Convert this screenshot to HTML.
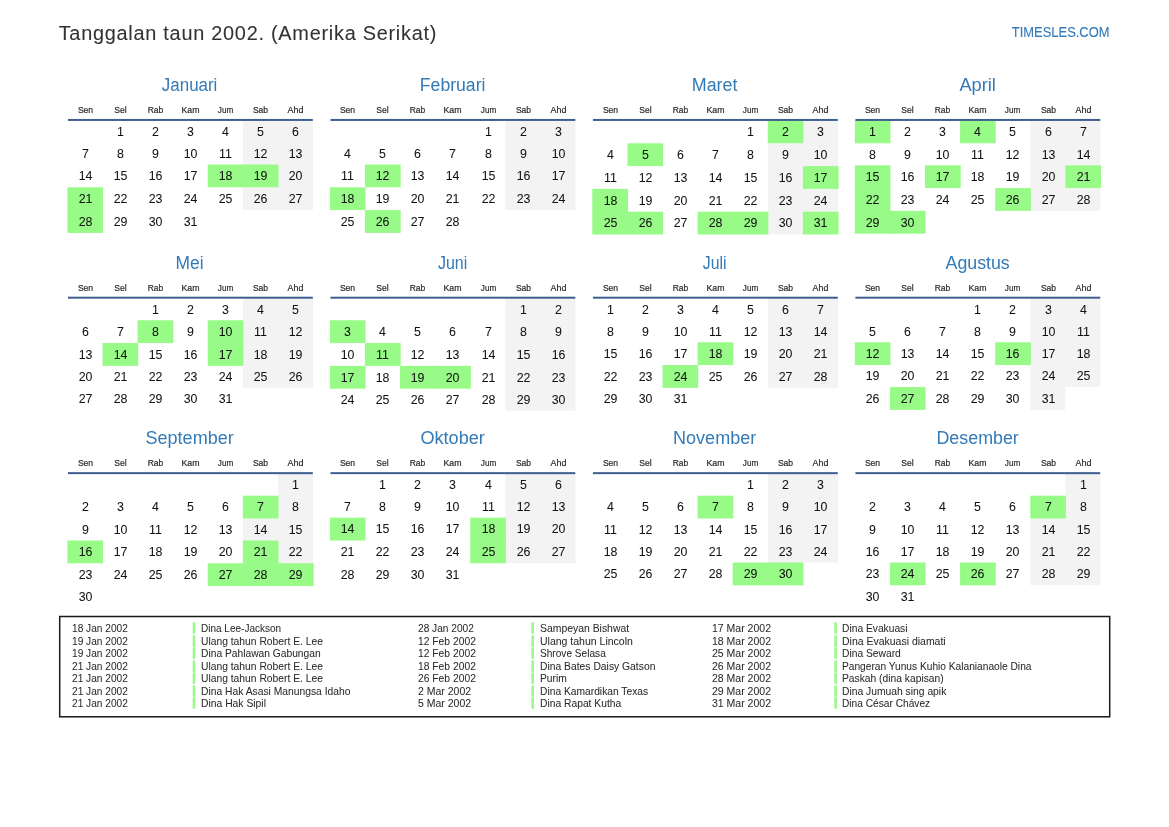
<!DOCTYPE html><html><head><meta charset="utf-8"><title>Tanggalan taun 2002</title><style>
html,body{margin:0;padding:0;background:#fff}
body{width:1169px;height:827px;position:relative;overflow:hidden;font-family:"Liberation Sans",sans-serif;color:#000}
div,svg{position:absolute;white-space:pre;line-height:1}
.w{-webkit-text-stroke:0.2px currentColor}
.s{-webkit-text-stroke:0.12px currentColor}
.t{-webkit-text-stroke:0.08px currentColor}
.h{-webkit-text-stroke:0.05px currentColor}
.d{-webkit-text-stroke:0.05px currentColor}
svg{left:0;top:0}
.t{font-size:19.9px;color:#333;transform-origin:0 50%}
.s{font-size:14.5px;color:#337ab7;transform-origin:100% 50%}
.m{font-size:17.6px;color:#337ab7;text-align:center;width:245.28px}
.w{font-size:8.8px;color:#2a2a2a;text-align:center;width:35.04px}
.d{font-size:13.5px;color:#111;text-align:center;width:35.04px;transform:scaleX(0.9146)}
.h{font-size:10.8px;color:#2a2a2a;transform-origin:0 50%}

</style></head><body>
<svg width="1169" height="827" viewBox="0 0 1169 827"><g fill="#f3f3f3"><rect x="242.85" y="120.50" width="35.59" height="22.50"/><rect x="277.94" y="120.50" width="35.09" height="22.50"/><rect x="242.85" y="142.50" width="35.59" height="22.50"/><rect x="277.94" y="142.50" width="35.09" height="22.50"/><rect x="277.94" y="164.50" width="35.09" height="23.30"/><rect x="242.85" y="187.30" width="35.59" height="22.80"/><rect x="277.94" y="187.30" width="35.09" height="22.80"/><rect x="505.32" y="120.50" width="35.59" height="22.50"/><rect x="540.41" y="120.50" width="35.09" height="22.50"/><rect x="505.32" y="142.50" width="35.59" height="22.50"/><rect x="540.41" y="142.50" width="35.09" height="22.50"/><rect x="505.32" y="164.50" width="35.59" height="23.30"/><rect x="540.41" y="164.50" width="35.09" height="23.30"/><rect x="505.32" y="187.30" width="35.59" height="22.80"/><rect x="540.41" y="187.30" width="35.09" height="22.80"/><rect x="802.88" y="120.50" width="35.09" height="23.30"/><rect x="767.79" y="143.30" width="35.59" height="23.30"/><rect x="802.88" y="143.30" width="35.09" height="23.30"/><rect x="767.79" y="166.10" width="35.59" height="23.30"/><rect x="767.79" y="188.90" width="35.59" height="23.30"/><rect x="802.88" y="188.90" width="35.09" height="23.30"/><rect x="767.79" y="211.70" width="35.59" height="22.80"/><rect x="1030.26" y="120.50" width="35.59" height="23.30"/><rect x="1065.35" y="120.50" width="35.09" height="23.30"/><rect x="1030.26" y="143.30" width="35.59" height="22.50"/><rect x="1065.35" y="143.30" width="35.09" height="22.50"/><rect x="1030.26" y="165.30" width="35.59" height="23.30"/><rect x="1030.26" y="188.10" width="35.59" height="22.80"/><rect x="1065.35" y="188.10" width="35.09" height="22.80"/><rect x="242.85" y="298.25" width="35.59" height="22.50"/><rect x="277.94" y="298.25" width="35.09" height="22.50"/><rect x="242.85" y="320.25" width="35.59" height="23.30"/><rect x="277.94" y="320.25" width="35.09" height="23.30"/><rect x="242.85" y="343.05" width="35.59" height="23.30"/><rect x="277.94" y="343.05" width="35.09" height="23.30"/><rect x="242.85" y="365.85" width="35.59" height="22.00"/><rect x="277.94" y="365.85" width="35.09" height="22.00"/><rect x="505.32" y="298.25" width="35.59" height="22.50"/><rect x="540.41" y="298.25" width="35.09" height="22.50"/><rect x="505.32" y="320.25" width="35.59" height="23.30"/><rect x="540.41" y="320.25" width="35.09" height="23.30"/><rect x="505.32" y="343.05" width="35.59" height="23.30"/><rect x="540.41" y="343.05" width="35.09" height="23.30"/><rect x="505.32" y="365.85" width="35.59" height="23.30"/><rect x="540.41" y="365.85" width="35.09" height="23.30"/><rect x="505.32" y="388.65" width="35.59" height="22.00"/><rect x="540.41" y="388.65" width="35.09" height="22.00"/><rect x="767.79" y="298.25" width="35.59" height="22.50"/><rect x="802.88" y="298.25" width="35.09" height="22.50"/><rect x="767.79" y="320.25" width="35.59" height="22.50"/><rect x="802.88" y="320.25" width="35.09" height="22.50"/><rect x="767.79" y="342.25" width="35.59" height="23.30"/><rect x="802.88" y="342.25" width="35.09" height="23.30"/><rect x="767.79" y="365.05" width="35.59" height="22.80"/><rect x="802.88" y="365.05" width="35.09" height="22.80"/><rect x="1030.26" y="298.25" width="35.59" height="22.50"/><rect x="1065.35" y="298.25" width="35.09" height="22.50"/><rect x="1030.26" y="320.25" width="35.59" height="22.50"/><rect x="1065.35" y="320.25" width="35.09" height="22.50"/><rect x="1030.26" y="342.25" width="35.59" height="23.30"/><rect x="1065.35" y="342.25" width="35.09" height="23.30"/><rect x="1030.26" y="365.05" width="35.59" height="22.50"/><rect x="1065.35" y="365.05" width="35.09" height="22.00"/><rect x="1030.26" y="387.05" width="35.09" height="22.80"/><rect x="277.94" y="473.70" width="35.09" height="22.50"/><rect x="277.94" y="495.70" width="35.09" height="23.30"/><rect x="242.85" y="518.50" width="35.59" height="22.50"/><rect x="277.94" y="518.50" width="35.09" height="22.50"/><rect x="277.94" y="540.50" width="35.09" height="23.30"/><rect x="505.32" y="473.70" width="35.59" height="22.50"/><rect x="540.41" y="473.70" width="35.09" height="22.50"/><rect x="505.32" y="495.70" width="35.59" height="22.50"/><rect x="540.41" y="495.70" width="35.09" height="22.50"/><rect x="505.32" y="517.70" width="35.59" height="23.30"/><rect x="540.41" y="517.70" width="35.09" height="23.30"/><rect x="505.32" y="540.50" width="35.59" height="22.80"/><rect x="540.41" y="540.50" width="35.09" height="22.80"/><rect x="767.79" y="473.70" width="35.59" height="22.50"/><rect x="802.88" y="473.70" width="35.09" height="22.50"/><rect x="767.79" y="495.70" width="35.59" height="23.30"/><rect x="802.88" y="495.70" width="35.09" height="23.30"/><rect x="767.79" y="518.50" width="35.59" height="22.50"/><rect x="802.88" y="518.50" width="35.09" height="22.50"/><rect x="767.79" y="540.50" width="35.59" height="22.50"/><rect x="802.88" y="540.50" width="35.09" height="22.00"/><rect x="1065.35" y="473.70" width="35.09" height="22.50"/><rect x="1065.35" y="495.70" width="35.09" height="23.30"/><rect x="1030.26" y="518.50" width="35.59" height="22.50"/><rect x="1065.35" y="518.50" width="35.09" height="22.50"/><rect x="1030.26" y="540.50" width="35.59" height="22.50"/><rect x="1065.35" y="540.50" width="35.09" height="22.50"/><rect x="1030.26" y="562.50" width="35.59" height="22.80"/><rect x="1065.35" y="562.50" width="35.09" height="22.80"/></g><g fill="#98fb87"><rect x="207.76" y="164.50" width="36.19" height="22.80"/><rect x="242.85" y="164.50" width="35.69" height="22.80"/><rect x="67.40" y="187.30" width="35.69" height="23.30"/><rect x="67.40" y="210.10" width="35.69" height="22.80"/><rect x="364.96" y="164.50" width="35.69" height="22.80"/><rect x="329.87" y="187.30" width="35.69" height="22.80"/><rect x="364.96" y="210.10" width="35.69" height="22.80"/><rect x="767.79" y="120.50" width="35.69" height="22.80"/><rect x="627.43" y="143.30" width="35.69" height="22.80"/><rect x="802.88" y="166.10" width="35.69" height="22.80"/><rect x="592.34" y="188.90" width="35.69" height="23.30"/><rect x="592.34" y="211.70" width="36.19" height="22.80"/><rect x="627.43" y="211.70" width="35.69" height="22.80"/><rect x="697.61" y="211.70" width="36.19" height="22.80"/><rect x="732.70" y="211.70" width="35.69" height="22.80"/><rect x="802.88" y="211.70" width="35.69" height="22.80"/><rect x="854.81" y="120.50" width="35.69" height="22.80"/><rect x="960.08" y="120.50" width="35.69" height="22.80"/><rect x="854.81" y="165.30" width="35.69" height="23.30"/><rect x="924.99" y="165.30" width="35.69" height="22.80"/><rect x="1065.35" y="165.30" width="35.69" height="22.80"/><rect x="854.81" y="188.10" width="35.69" height="23.30"/><rect x="995.17" y="188.10" width="35.69" height="22.80"/><rect x="854.81" y="210.90" width="36.19" height="22.80"/><rect x="889.90" y="210.90" width="35.69" height="22.80"/><rect x="137.58" y="320.25" width="35.69" height="22.80"/><rect x="207.76" y="320.25" width="35.69" height="23.30"/><rect x="102.49" y="343.05" width="35.69" height="22.80"/><rect x="207.76" y="343.05" width="35.69" height="22.80"/><rect x="329.87" y="320.25" width="35.69" height="22.80"/><rect x="364.96" y="343.05" width="35.69" height="22.80"/><rect x="329.87" y="365.85" width="35.69" height="22.80"/><rect x="400.05" y="365.85" width="36.19" height="22.80"/><rect x="435.14" y="365.85" width="35.69" height="22.80"/><rect x="697.61" y="342.25" width="35.69" height="22.80"/><rect x="662.52" y="365.05" width="35.69" height="22.80"/><rect x="854.81" y="342.25" width="35.69" height="22.80"/><rect x="995.17" y="342.25" width="35.69" height="22.80"/><rect x="889.90" y="387.05" width="35.69" height="22.80"/><rect x="242.85" y="495.70" width="35.69" height="22.80"/><rect x="67.40" y="540.50" width="35.69" height="22.80"/><rect x="242.85" y="540.50" width="35.69" height="23.30"/><rect x="207.76" y="563.30" width="36.19" height="22.80"/><rect x="242.85" y="563.30" width="36.19" height="22.80"/><rect x="277.94" y="563.30" width="35.69" height="22.80"/><rect x="329.87" y="517.70" width="35.69" height="22.80"/><rect x="470.23" y="517.70" width="35.69" height="23.30"/><rect x="470.23" y="540.50" width="35.69" height="22.80"/><rect x="697.61" y="495.70" width="35.69" height="22.80"/><rect x="732.70" y="562.50" width="36.19" height="22.80"/><rect x="767.79" y="562.50" width="35.69" height="22.80"/><rect x="1030.26" y="495.70" width="35.69" height="22.80"/><rect x="889.90" y="562.50" width="35.69" height="22.80"/><rect x="960.08" y="562.50" width="35.69" height="22.80"/></g><g fill="#3e5e90"><rect x="68.00" y="118.95" width="244.83" height="2.0"/><rect x="330.47" y="118.95" width="244.83" height="2.0"/><rect x="592.94" y="118.95" width="244.83" height="2.0"/><rect x="855.41" y="118.95" width="244.83" height="2.0"/><rect x="68.00" y="296.70" width="244.83" height="2.0"/><rect x="330.47" y="296.70" width="244.83" height="2.0"/><rect x="592.94" y="296.70" width="244.83" height="2.0"/><rect x="855.41" y="296.70" width="244.83" height="2.0"/><rect x="68.00" y="472.15" width="244.83" height="2.0"/><rect x="330.47" y="472.15" width="244.83" height="2.0"/><rect x="592.94" y="472.15" width="244.83" height="2.0"/><rect x="855.41" y="472.15" width="244.83" height="2.0"/></g><rect x="59.7" y="616.5" width="1050.00" height="100.30" fill="none" stroke="#1a1a1a" stroke-width="1.5"/><g fill="#98fb87"><rect x="192.7" y="622.40" width="2.6" height="11.4"/><rect x="192.7" y="635.40" width="2.6" height="11.4"/><rect x="192.7" y="647.40" width="2.6" height="11.4"/><rect x="192.7" y="660.40" width="2.6" height="11.4"/><rect x="192.7" y="672.40" width="2.6" height="11.4"/><rect x="192.7" y="685.40" width="2.6" height="11.4"/><rect x="192.7" y="697.40" width="2.6" height="11.4"/><rect x="531.4" y="622.40" width="2.6" height="11.4"/><rect x="531.4" y="635.40" width="2.6" height="11.4"/><rect x="531.4" y="647.40" width="2.6" height="11.4"/><rect x="531.4" y="660.40" width="2.6" height="11.4"/><rect x="531.4" y="672.40" width="2.6" height="11.4"/><rect x="531.4" y="685.40" width="2.6" height="11.4"/><rect x="531.4" y="697.40" width="2.6" height="11.4"/><rect x="834.3" y="622.40" width="2.6" height="11.4"/><rect x="834.3" y="635.40" width="2.6" height="11.4"/><rect x="834.3" y="647.40" width="2.6" height="11.4"/><rect x="834.3" y="660.40" width="2.6" height="11.4"/><rect x="834.3" y="672.40" width="2.6" height="11.4"/><rect x="834.3" y="685.40" width="2.6" height="11.4"/><rect x="834.3" y="697.40" width="2.6" height="11.4"/></g></svg>
<div id="tx" style="left:0;top:0;width:1169px;height:827px;will-change:transform">
<div class="t" style="left:58.7px;top:24.26px;letter-spacing:0.735px">Tanggalan taun 2002. (Amerika Serikat)</div>
<div class="s" style="right:59.10px;top:24.88px;transform:scaleX(0.8927)">TIMESLES.COM</div>
<div class="m" style="left:67.40px;top:77.29px;transform:scaleX(0.9618)">Januari</div>
<div class="w" style="left:67.90px;top:105.64px;transform:scaleX(0.9744)">Sen</div>
<div class="w" style="left:102.94px;top:105.64px;transform:scaleX(0.9730)">Sel</div>
<div class="w" style="left:137.98px;top:105.64px;transform:scaleX(0.9620)">Rab</div>
<div class="w" style="left:173.02px;top:105.64px;transform:scaleX(0.9947)">Kam</div>
<div class="w" style="left:208.06px;top:105.64px;transform:scaleX(0.9268)">Jum</div>
<div class="w" style="left:243.10px;top:105.64px;transform:scaleX(0.9736)">Sab</div>
<div class="w" style="left:278.14px;top:105.64px;transform:scaleX(1.0098)">Ahd</div>
<div class="d" style="left:102.94px;top:124.71px">1</div>
<div class="d" style="left:137.98px;top:124.71px">2</div>
<div class="d" style="left:173.02px;top:124.71px">3</div>
<div class="d" style="left:208.06px;top:124.71px">4</div>
<div class="d" style="left:243.10px;top:124.71px">5</div>
<div class="d" style="left:278.14px;top:124.71px">6</div>
<div class="d" style="left:67.90px;top:146.71px">7</div>
<div class="d" style="left:102.94px;top:146.71px">8</div>
<div class="d" style="left:137.98px;top:146.71px">9</div>
<div class="d" style="left:173.02px;top:146.71px">10</div>
<div class="d" style="left:208.06px;top:146.71px">11</div>
<div class="d" style="left:243.10px;top:146.71px">12</div>
<div class="d" style="left:278.14px;top:146.71px">13</div>
<div class="d" style="left:67.90px;top:168.71px">14</div>
<div class="d" style="left:102.94px;top:168.71px">15</div>
<div class="d" style="left:137.98px;top:168.71px">16</div>
<div class="d" style="left:173.02px;top:168.71px">17</div>
<div class="d" style="left:208.06px;top:168.71px">18</div>
<div class="d" style="left:243.10px;top:168.71px">19</div>
<div class="d" style="left:278.14px;top:168.71px">20</div>
<div class="d" style="left:67.90px;top:191.71px">21</div>
<div class="d" style="left:102.94px;top:191.71px">22</div>
<div class="d" style="left:137.98px;top:191.71px">23</div>
<div class="d" style="left:173.02px;top:191.71px">24</div>
<div class="d" style="left:208.06px;top:191.71px">25</div>
<div class="d" style="left:243.10px;top:191.71px">26</div>
<div class="d" style="left:278.14px;top:191.71px">27</div>
<div class="d" style="left:67.90px;top:214.71px">28</div>
<div class="d" style="left:102.94px;top:214.71px">29</div>
<div class="d" style="left:137.98px;top:214.71px">30</div>
<div class="d" style="left:173.02px;top:214.71px">31</div>
<div class="m" style="left:329.87px;top:77.29px;transform:scaleX(1.0018)">Februari</div>
<div class="w" style="left:330.37px;top:105.64px;transform:scaleX(0.9744)">Sen</div>
<div class="w" style="left:365.41px;top:105.64px;transform:scaleX(0.9730)">Sel</div>
<div class="w" style="left:400.45px;top:105.64px;transform:scaleX(0.9620)">Rab</div>
<div class="w" style="left:435.49px;top:105.64px;transform:scaleX(0.9947)">Kam</div>
<div class="w" style="left:470.53px;top:105.64px;transform:scaleX(0.9268)">Jum</div>
<div class="w" style="left:505.57px;top:105.64px;transform:scaleX(0.9736)">Sab</div>
<div class="w" style="left:540.61px;top:105.64px;transform:scaleX(1.0098)">Ahd</div>
<div class="d" style="left:470.53px;top:124.71px">1</div>
<div class="d" style="left:505.57px;top:124.71px">2</div>
<div class="d" style="left:540.61px;top:124.71px">3</div>
<div class="d" style="left:330.37px;top:146.71px">4</div>
<div class="d" style="left:365.41px;top:146.71px">5</div>
<div class="d" style="left:400.45px;top:146.71px">6</div>
<div class="d" style="left:435.49px;top:146.71px">7</div>
<div class="d" style="left:470.53px;top:146.71px">8</div>
<div class="d" style="left:505.57px;top:146.71px">9</div>
<div class="d" style="left:540.61px;top:146.71px">10</div>
<div class="d" style="left:330.37px;top:168.71px">11</div>
<div class="d" style="left:365.41px;top:168.71px">12</div>
<div class="d" style="left:400.45px;top:168.71px">13</div>
<div class="d" style="left:435.49px;top:168.71px">14</div>
<div class="d" style="left:470.53px;top:168.71px">15</div>
<div class="d" style="left:505.57px;top:168.71px">16</div>
<div class="d" style="left:540.61px;top:168.71px">17</div>
<div class="d" style="left:330.37px;top:191.71px">18</div>
<div class="d" style="left:365.41px;top:191.71px">19</div>
<div class="d" style="left:400.45px;top:191.71px">20</div>
<div class="d" style="left:435.49px;top:191.71px">21</div>
<div class="d" style="left:470.53px;top:191.71px">22</div>
<div class="d" style="left:505.57px;top:191.71px">23</div>
<div class="d" style="left:540.61px;top:191.71px">24</div>
<div class="d" style="left:330.37px;top:214.71px">25</div>
<div class="d" style="left:365.41px;top:214.71px">26</div>
<div class="d" style="left:400.45px;top:214.71px">27</div>
<div class="d" style="left:435.49px;top:214.71px">28</div>
<div class="m" style="left:592.34px;top:77.29px;transform:scaleX(1.0185)">Maret</div>
<div class="w" style="left:592.84px;top:105.64px;transform:scaleX(0.9744)">Sen</div>
<div class="w" style="left:627.88px;top:105.64px;transform:scaleX(0.9730)">Sel</div>
<div class="w" style="left:662.92px;top:105.64px;transform:scaleX(0.9620)">Rab</div>
<div class="w" style="left:697.96px;top:105.64px;transform:scaleX(0.9947)">Kam</div>
<div class="w" style="left:733.00px;top:105.64px;transform:scaleX(0.9268)">Jum</div>
<div class="w" style="left:768.04px;top:105.64px;transform:scaleX(0.9736)">Sab</div>
<div class="w" style="left:803.08px;top:105.64px;transform:scaleX(1.0098)">Ahd</div>
<div class="d" style="left:733.00px;top:124.71px">1</div>
<div class="d" style="left:768.04px;top:124.71px">2</div>
<div class="d" style="left:803.08px;top:124.71px">3</div>
<div class="d" style="left:592.84px;top:147.71px">4</div>
<div class="d" style="left:627.88px;top:147.71px">5</div>
<div class="d" style="left:662.92px;top:147.71px">6</div>
<div class="d" style="left:697.96px;top:147.71px">7</div>
<div class="d" style="left:733.00px;top:147.71px">8</div>
<div class="d" style="left:768.04px;top:147.71px">9</div>
<div class="d" style="left:803.08px;top:147.71px">10</div>
<div class="d" style="left:592.84px;top:170.71px">11</div>
<div class="d" style="left:627.88px;top:170.71px">12</div>
<div class="d" style="left:662.92px;top:170.71px">13</div>
<div class="d" style="left:697.96px;top:170.71px">14</div>
<div class="d" style="left:733.00px;top:170.71px">15</div>
<div class="d" style="left:768.04px;top:170.71px">16</div>
<div class="d" style="left:803.08px;top:170.71px">17</div>
<div class="d" style="left:592.84px;top:193.71px">18</div>
<div class="d" style="left:627.88px;top:193.71px">19</div>
<div class="d" style="left:662.92px;top:193.71px">20</div>
<div class="d" style="left:697.96px;top:193.71px">21</div>
<div class="d" style="left:733.00px;top:193.71px">22</div>
<div class="d" style="left:768.04px;top:193.71px">23</div>
<div class="d" style="left:803.08px;top:193.71px">24</div>
<div class="d" style="left:592.84px;top:215.71px">25</div>
<div class="d" style="left:627.88px;top:215.71px">26</div>
<div class="d" style="left:662.92px;top:215.71px">27</div>
<div class="d" style="left:697.96px;top:215.71px">28</div>
<div class="d" style="left:733.00px;top:215.71px">29</div>
<div class="d" style="left:768.04px;top:215.71px">30</div>
<div class="d" style="left:803.08px;top:215.71px">31</div>
<div class="m" style="left:854.81px;top:77.29px;transform:scaleX(1.0366)">April</div>
<div class="w" style="left:855.31px;top:105.64px;transform:scaleX(0.9744)">Sen</div>
<div class="w" style="left:890.35px;top:105.64px;transform:scaleX(0.9730)">Sel</div>
<div class="w" style="left:925.39px;top:105.64px;transform:scaleX(0.9620)">Rab</div>
<div class="w" style="left:960.43px;top:105.64px;transform:scaleX(0.9947)">Kam</div>
<div class="w" style="left:995.47px;top:105.64px;transform:scaleX(0.9268)">Jum</div>
<div class="w" style="left:1030.51px;top:105.64px;transform:scaleX(0.9736)">Sab</div>
<div class="w" style="left:1065.55px;top:105.64px;transform:scaleX(1.0098)">Ahd</div>
<div class="d" style="left:855.31px;top:124.71px">1</div>
<div class="d" style="left:890.35px;top:124.71px">2</div>
<div class="d" style="left:925.39px;top:124.71px">3</div>
<div class="d" style="left:960.43px;top:124.71px">4</div>
<div class="d" style="left:995.47px;top:124.71px">5</div>
<div class="d" style="left:1030.51px;top:124.71px">6</div>
<div class="d" style="left:1065.55px;top:124.71px">7</div>
<div class="d" style="left:855.31px;top:147.71px">8</div>
<div class="d" style="left:890.35px;top:147.71px">9</div>
<div class="d" style="left:925.39px;top:147.71px">10</div>
<div class="d" style="left:960.43px;top:147.71px">11</div>
<div class="d" style="left:995.47px;top:147.71px">12</div>
<div class="d" style="left:1030.51px;top:147.71px">13</div>
<div class="d" style="left:1065.55px;top:147.71px">14</div>
<div class="d" style="left:855.31px;top:169.71px">15</div>
<div class="d" style="left:890.35px;top:169.71px">16</div>
<div class="d" style="left:925.39px;top:169.71px">17</div>
<div class="d" style="left:960.43px;top:169.71px">18</div>
<div class="d" style="left:995.47px;top:169.71px">19</div>
<div class="d" style="left:1030.51px;top:169.71px">20</div>
<div class="d" style="left:1065.55px;top:169.71px">21</div>
<div class="d" style="left:855.31px;top:192.71px">22</div>
<div class="d" style="left:890.35px;top:192.71px">23</div>
<div class="d" style="left:925.39px;top:192.71px">24</div>
<div class="d" style="left:960.43px;top:192.71px">25</div>
<div class="d" style="left:995.47px;top:192.71px">26</div>
<div class="d" style="left:1030.51px;top:192.71px">27</div>
<div class="d" style="left:1065.55px;top:192.71px">28</div>
<div class="d" style="left:855.31px;top:215.71px">29</div>
<div class="d" style="left:890.35px;top:215.71px">30</div>
<div class="m" style="left:67.40px;top:255.29px;transform:scaleX(0.9890)">Mei</div>
<div class="w" style="left:67.90px;top:283.64px;transform:scaleX(0.9744)">Sen</div>
<div class="w" style="left:102.94px;top:283.64px;transform:scaleX(0.9730)">Sel</div>
<div class="w" style="left:137.98px;top:283.64px;transform:scaleX(0.9620)">Rab</div>
<div class="w" style="left:173.02px;top:283.64px;transform:scaleX(0.9947)">Kam</div>
<div class="w" style="left:208.06px;top:283.64px;transform:scaleX(0.9268)">Jum</div>
<div class="w" style="left:243.10px;top:283.64px;transform:scaleX(0.9736)">Sab</div>
<div class="w" style="left:278.14px;top:283.64px;transform:scaleX(1.0098)">Ahd</div>
<div class="d" style="left:137.98px;top:302.71px">1</div>
<div class="d" style="left:173.02px;top:302.71px">2</div>
<div class="d" style="left:208.06px;top:302.71px">3</div>
<div class="d" style="left:243.10px;top:302.71px">4</div>
<div class="d" style="left:278.14px;top:302.71px">5</div>
<div class="d" style="left:67.90px;top:324.71px">6</div>
<div class="d" style="left:102.94px;top:324.71px">7</div>
<div class="d" style="left:137.98px;top:324.71px">8</div>
<div class="d" style="left:173.02px;top:324.71px">9</div>
<div class="d" style="left:208.06px;top:324.71px">10</div>
<div class="d" style="left:243.10px;top:324.71px">11</div>
<div class="d" style="left:278.14px;top:324.71px">12</div>
<div class="d" style="left:67.90px;top:347.71px">13</div>
<div class="d" style="left:102.94px;top:347.71px">14</div>
<div class="d" style="left:137.98px;top:347.71px">15</div>
<div class="d" style="left:173.02px;top:347.71px">16</div>
<div class="d" style="left:208.06px;top:347.71px">17</div>
<div class="d" style="left:243.10px;top:347.71px">18</div>
<div class="d" style="left:278.14px;top:347.71px">19</div>
<div class="d" style="left:67.90px;top:369.71px">20</div>
<div class="d" style="left:102.94px;top:369.71px">21</div>
<div class="d" style="left:137.98px;top:369.71px">22</div>
<div class="d" style="left:173.02px;top:369.71px">23</div>
<div class="d" style="left:208.06px;top:369.71px">24</div>
<div class="d" style="left:243.10px;top:369.71px">25</div>
<div class="d" style="left:278.14px;top:369.71px">26</div>
<div class="d" style="left:67.90px;top:391.71px">27</div>
<div class="d" style="left:102.94px;top:391.71px">28</div>
<div class="d" style="left:137.98px;top:391.71px">29</div>
<div class="d" style="left:173.02px;top:391.71px">30</div>
<div class="d" style="left:208.06px;top:391.71px">31</div>
<div class="m" style="left:329.87px;top:255.29px;transform:scaleX(0.9103)">Juni</div>
<div class="w" style="left:330.37px;top:283.64px;transform:scaleX(0.9744)">Sen</div>
<div class="w" style="left:365.41px;top:283.64px;transform:scaleX(0.9730)">Sel</div>
<div class="w" style="left:400.45px;top:283.64px;transform:scaleX(0.9620)">Rab</div>
<div class="w" style="left:435.49px;top:283.64px;transform:scaleX(0.9947)">Kam</div>
<div class="w" style="left:470.53px;top:283.64px;transform:scaleX(0.9268)">Jum</div>
<div class="w" style="left:505.57px;top:283.64px;transform:scaleX(0.9736)">Sab</div>
<div class="w" style="left:540.61px;top:283.64px;transform:scaleX(1.0098)">Ahd</div>
<div class="d" style="left:505.57px;top:302.71px">1</div>
<div class="d" style="left:540.61px;top:302.71px">2</div>
<div class="d" style="left:330.37px;top:324.71px">3</div>
<div class="d" style="left:365.41px;top:324.71px">4</div>
<div class="d" style="left:400.45px;top:324.71px">5</div>
<div class="d" style="left:435.49px;top:324.71px">6</div>
<div class="d" style="left:470.53px;top:324.71px">7</div>
<div class="d" style="left:505.57px;top:324.71px">8</div>
<div class="d" style="left:540.61px;top:324.71px">9</div>
<div class="d" style="left:330.37px;top:347.71px">10</div>
<div class="d" style="left:365.41px;top:347.71px">11</div>
<div class="d" style="left:400.45px;top:347.71px">12</div>
<div class="d" style="left:435.49px;top:347.71px">13</div>
<div class="d" style="left:470.53px;top:347.71px">14</div>
<div class="d" style="left:505.57px;top:347.71px">15</div>
<div class="d" style="left:540.61px;top:347.71px">16</div>
<div class="d" style="left:330.37px;top:370.71px">17</div>
<div class="d" style="left:365.41px;top:370.71px">18</div>
<div class="d" style="left:400.45px;top:370.71px">19</div>
<div class="d" style="left:435.49px;top:370.71px">20</div>
<div class="d" style="left:470.53px;top:370.71px">21</div>
<div class="d" style="left:505.57px;top:370.71px">22</div>
<div class="d" style="left:540.61px;top:370.71px">23</div>
<div class="d" style="left:330.37px;top:392.71px">24</div>
<div class="d" style="left:365.41px;top:392.71px">25</div>
<div class="d" style="left:400.45px;top:392.71px">26</div>
<div class="d" style="left:435.49px;top:392.71px">27</div>
<div class="d" style="left:470.53px;top:392.71px">28</div>
<div class="d" style="left:505.57px;top:392.71px">29</div>
<div class="d" style="left:540.61px;top:392.71px">30</div>
<div class="m" style="left:592.34px;top:255.29px;transform:scaleX(0.8975)">Juli</div>
<div class="w" style="left:592.84px;top:283.64px;transform:scaleX(0.9744)">Sen</div>
<div class="w" style="left:627.88px;top:283.64px;transform:scaleX(0.9730)">Sel</div>
<div class="w" style="left:662.92px;top:283.64px;transform:scaleX(0.9620)">Rab</div>
<div class="w" style="left:697.96px;top:283.64px;transform:scaleX(0.9947)">Kam</div>
<div class="w" style="left:733.00px;top:283.64px;transform:scaleX(0.9268)">Jum</div>
<div class="w" style="left:768.04px;top:283.64px;transform:scaleX(0.9736)">Sab</div>
<div class="w" style="left:803.08px;top:283.64px;transform:scaleX(1.0098)">Ahd</div>
<div class="d" style="left:592.84px;top:302.71px">1</div>
<div class="d" style="left:627.88px;top:302.71px">2</div>
<div class="d" style="left:662.92px;top:302.71px">3</div>
<div class="d" style="left:697.96px;top:302.71px">4</div>
<div class="d" style="left:733.00px;top:302.71px">5</div>
<div class="d" style="left:768.04px;top:302.71px">6</div>
<div class="d" style="left:803.08px;top:302.71px">7</div>
<div class="d" style="left:592.84px;top:324.71px">8</div>
<div class="d" style="left:627.88px;top:324.71px">9</div>
<div class="d" style="left:662.92px;top:324.71px">10</div>
<div class="d" style="left:697.96px;top:324.71px">11</div>
<div class="d" style="left:733.00px;top:324.71px">12</div>
<div class="d" style="left:768.04px;top:324.71px">13</div>
<div class="d" style="left:803.08px;top:324.71px">14</div>
<div class="d" style="left:592.84px;top:346.71px">15</div>
<div class="d" style="left:627.88px;top:346.71px">16</div>
<div class="d" style="left:662.92px;top:346.71px">17</div>
<div class="d" style="left:697.96px;top:346.71px">18</div>
<div class="d" style="left:733.00px;top:346.71px">19</div>
<div class="d" style="left:768.04px;top:346.71px">20</div>
<div class="d" style="left:803.08px;top:346.71px">21</div>
<div class="d" style="left:592.84px;top:369.71px">22</div>
<div class="d" style="left:627.88px;top:369.71px">23</div>
<div class="d" style="left:662.92px;top:369.71px">24</div>
<div class="d" style="left:697.96px;top:369.71px">25</div>
<div class="d" style="left:733.00px;top:369.71px">26</div>
<div class="d" style="left:768.04px;top:369.71px">27</div>
<div class="d" style="left:803.08px;top:369.71px">28</div>
<div class="d" style="left:592.84px;top:391.71px">29</div>
<div class="d" style="left:627.88px;top:391.71px">30</div>
<div class="d" style="left:662.92px;top:391.71px">31</div>
<div class="m" style="left:854.81px;top:255.29px;transform:scaleX(1.0096)">Agustus</div>
<div class="w" style="left:855.31px;top:283.64px;transform:scaleX(0.9744)">Sen</div>
<div class="w" style="left:890.35px;top:283.64px;transform:scaleX(0.9730)">Sel</div>
<div class="w" style="left:925.39px;top:283.64px;transform:scaleX(0.9620)">Rab</div>
<div class="w" style="left:960.43px;top:283.64px;transform:scaleX(0.9947)">Kam</div>
<div class="w" style="left:995.47px;top:283.64px;transform:scaleX(0.9268)">Jum</div>
<div class="w" style="left:1030.51px;top:283.64px;transform:scaleX(0.9736)">Sab</div>
<div class="w" style="left:1065.55px;top:283.64px;transform:scaleX(1.0098)">Ahd</div>
<div class="d" style="left:960.43px;top:302.71px">1</div>
<div class="d" style="left:995.47px;top:302.71px">2</div>
<div class="d" style="left:1030.51px;top:302.71px">3</div>
<div class="d" style="left:1065.55px;top:302.71px">4</div>
<div class="d" style="left:855.31px;top:324.71px">5</div>
<div class="d" style="left:890.35px;top:324.71px">6</div>
<div class="d" style="left:925.39px;top:324.71px">7</div>
<div class="d" style="left:960.43px;top:324.71px">8</div>
<div class="d" style="left:995.47px;top:324.71px">9</div>
<div class="d" style="left:1030.51px;top:324.71px">10</div>
<div class="d" style="left:1065.55px;top:324.71px">11</div>
<div class="d" style="left:855.31px;top:346.71px">12</div>
<div class="d" style="left:890.35px;top:346.71px">13</div>
<div class="d" style="left:925.39px;top:346.71px">14</div>
<div class="d" style="left:960.43px;top:346.71px">15</div>
<div class="d" style="left:995.47px;top:346.71px">16</div>
<div class="d" style="left:1030.51px;top:346.71px">17</div>
<div class="d" style="left:1065.55px;top:346.71px">18</div>
<div class="d" style="left:855.31px;top:368.71px">19</div>
<div class="d" style="left:890.35px;top:368.71px">20</div>
<div class="d" style="left:925.39px;top:368.71px">21</div>
<div class="d" style="left:960.43px;top:368.71px">22</div>
<div class="d" style="left:995.47px;top:368.71px">23</div>
<div class="d" style="left:1030.51px;top:368.71px">24</div>
<div class="d" style="left:1065.55px;top:368.71px">25</div>
<div class="d" style="left:855.31px;top:391.71px">26</div>
<div class="d" style="left:890.35px;top:391.71px">27</div>
<div class="d" style="left:925.39px;top:391.71px">28</div>
<div class="d" style="left:960.43px;top:391.71px">29</div>
<div class="d" style="left:995.47px;top:391.71px">30</div>
<div class="d" style="left:1030.51px;top:391.71px">31</div>
<div class="m" style="left:67.40px;top:430.29px;transform:scaleX(1.0254)">September</div>
<div class="w" style="left:67.90px;top:458.64px;transform:scaleX(0.9744)">Sen</div>
<div class="w" style="left:102.94px;top:458.64px;transform:scaleX(0.9730)">Sel</div>
<div class="w" style="left:137.98px;top:458.64px;transform:scaleX(0.9620)">Rab</div>
<div class="w" style="left:173.02px;top:458.64px;transform:scaleX(0.9947)">Kam</div>
<div class="w" style="left:208.06px;top:458.64px;transform:scaleX(0.9268)">Jum</div>
<div class="w" style="left:243.10px;top:458.64px;transform:scaleX(0.9736)">Sab</div>
<div class="w" style="left:278.14px;top:458.64px;transform:scaleX(1.0098)">Ahd</div>
<div class="d" style="left:278.14px;top:477.71px">1</div>
<div class="d" style="left:67.90px;top:499.71px">2</div>
<div class="d" style="left:102.94px;top:499.71px">3</div>
<div class="d" style="left:137.98px;top:499.71px">4</div>
<div class="d" style="left:173.02px;top:499.71px">5</div>
<div class="d" style="left:208.06px;top:499.71px">6</div>
<div class="d" style="left:243.10px;top:499.71px">7</div>
<div class="d" style="left:278.14px;top:499.71px">8</div>
<div class="d" style="left:67.90px;top:522.71px">9</div>
<div class="d" style="left:102.94px;top:522.71px">10</div>
<div class="d" style="left:137.98px;top:522.71px">11</div>
<div class="d" style="left:173.02px;top:522.71px">12</div>
<div class="d" style="left:208.06px;top:522.71px">13</div>
<div class="d" style="left:243.10px;top:522.71px">14</div>
<div class="d" style="left:278.14px;top:522.71px">15</div>
<div class="d" style="left:67.90px;top:544.71px">16</div>
<div class="d" style="left:102.94px;top:544.71px">17</div>
<div class="d" style="left:137.98px;top:544.71px">18</div>
<div class="d" style="left:173.02px;top:544.71px">19</div>
<div class="d" style="left:208.06px;top:544.71px">20</div>
<div class="d" style="left:243.10px;top:544.71px">21</div>
<div class="d" style="left:278.14px;top:544.71px">22</div>
<div class="d" style="left:67.90px;top:567.71px">23</div>
<div class="d" style="left:102.94px;top:567.71px">24</div>
<div class="d" style="left:137.98px;top:567.71px">25</div>
<div class="d" style="left:173.02px;top:567.71px">26</div>
<div class="d" style="left:208.06px;top:567.71px">27</div>
<div class="d" style="left:243.10px;top:567.71px">28</div>
<div class="d" style="left:278.14px;top:567.71px">29</div>
<div class="d" style="left:67.90px;top:589.71px">30</div>
<div class="m" style="left:329.87px;top:430.29px;transform:scaleX(1.0282)">Oktober</div>
<div class="w" style="left:330.37px;top:458.64px;transform:scaleX(0.9744)">Sen</div>
<div class="w" style="left:365.41px;top:458.64px;transform:scaleX(0.9730)">Sel</div>
<div class="w" style="left:400.45px;top:458.64px;transform:scaleX(0.9620)">Rab</div>
<div class="w" style="left:435.49px;top:458.64px;transform:scaleX(0.9947)">Kam</div>
<div class="w" style="left:470.53px;top:458.64px;transform:scaleX(0.9268)">Jum</div>
<div class="w" style="left:505.57px;top:458.64px;transform:scaleX(0.9736)">Sab</div>
<div class="w" style="left:540.61px;top:458.64px;transform:scaleX(1.0098)">Ahd</div>
<div class="d" style="left:365.41px;top:477.71px">1</div>
<div class="d" style="left:400.45px;top:477.71px">2</div>
<div class="d" style="left:435.49px;top:477.71px">3</div>
<div class="d" style="left:470.53px;top:477.71px">4</div>
<div class="d" style="left:505.57px;top:477.71px">5</div>
<div class="d" style="left:540.61px;top:477.71px">6</div>
<div class="d" style="left:330.37px;top:499.71px">7</div>
<div class="d" style="left:365.41px;top:499.71px">8</div>
<div class="d" style="left:400.45px;top:499.71px">9</div>
<div class="d" style="left:435.49px;top:499.71px">10</div>
<div class="d" style="left:470.53px;top:499.71px">11</div>
<div class="d" style="left:505.57px;top:499.71px">12</div>
<div class="d" style="left:540.61px;top:499.71px">13</div>
<div class="d" style="left:330.37px;top:521.71px">14</div>
<div class="d" style="left:365.41px;top:521.71px">15</div>
<div class="d" style="left:400.45px;top:521.71px">16</div>
<div class="d" style="left:435.49px;top:521.71px">17</div>
<div class="d" style="left:470.53px;top:521.71px">18</div>
<div class="d" style="left:505.57px;top:521.71px">19</div>
<div class="d" style="left:540.61px;top:521.71px">20</div>
<div class="d" style="left:330.37px;top:544.71px">21</div>
<div class="d" style="left:365.41px;top:544.71px">22</div>
<div class="d" style="left:400.45px;top:544.71px">23</div>
<div class="d" style="left:435.49px;top:544.71px">24</div>
<div class="d" style="left:470.53px;top:544.71px">25</div>
<div class="d" style="left:505.57px;top:544.71px">26</div>
<div class="d" style="left:540.61px;top:544.71px">27</div>
<div class="d" style="left:330.37px;top:567.71px">28</div>
<div class="d" style="left:365.41px;top:567.71px">29</div>
<div class="d" style="left:400.45px;top:567.71px">30</div>
<div class="d" style="left:435.49px;top:567.71px">31</div>
<div class="m" style="left:592.34px;top:430.29px;transform:scaleX(1.0233)">November</div>
<div class="w" style="left:592.84px;top:458.64px;transform:scaleX(0.9744)">Sen</div>
<div class="w" style="left:627.88px;top:458.64px;transform:scaleX(0.9730)">Sel</div>
<div class="w" style="left:662.92px;top:458.64px;transform:scaleX(0.9620)">Rab</div>
<div class="w" style="left:697.96px;top:458.64px;transform:scaleX(0.9947)">Kam</div>
<div class="w" style="left:733.00px;top:458.64px;transform:scaleX(0.9268)">Jum</div>
<div class="w" style="left:768.04px;top:458.64px;transform:scaleX(0.9736)">Sab</div>
<div class="w" style="left:803.08px;top:458.64px;transform:scaleX(1.0098)">Ahd</div>
<div class="d" style="left:733.00px;top:477.71px">1</div>
<div class="d" style="left:768.04px;top:477.71px">2</div>
<div class="d" style="left:803.08px;top:477.71px">3</div>
<div class="d" style="left:592.84px;top:499.71px">4</div>
<div class="d" style="left:627.88px;top:499.71px">5</div>
<div class="d" style="left:662.92px;top:499.71px">6</div>
<div class="d" style="left:697.96px;top:499.71px">7</div>
<div class="d" style="left:733.00px;top:499.71px">8</div>
<div class="d" style="left:768.04px;top:499.71px">9</div>
<div class="d" style="left:803.08px;top:499.71px">10</div>
<div class="d" style="left:592.84px;top:522.71px">11</div>
<div class="d" style="left:627.88px;top:522.71px">12</div>
<div class="d" style="left:662.92px;top:522.71px">13</div>
<div class="d" style="left:697.96px;top:522.71px">14</div>
<div class="d" style="left:733.00px;top:522.71px">15</div>
<div class="d" style="left:768.04px;top:522.71px">16</div>
<div class="d" style="left:803.08px;top:522.71px">17</div>
<div class="d" style="left:592.84px;top:544.71px">18</div>
<div class="d" style="left:627.88px;top:544.71px">19</div>
<div class="d" style="left:662.92px;top:544.71px">20</div>
<div class="d" style="left:697.96px;top:544.71px">21</div>
<div class="d" style="left:733.00px;top:544.71px">22</div>
<div class="d" style="left:768.04px;top:544.71px">23</div>
<div class="d" style="left:803.08px;top:544.71px">24</div>
<div class="d" style="left:592.84px;top:566.71px">25</div>
<div class="d" style="left:627.88px;top:566.71px">26</div>
<div class="d" style="left:662.92px;top:566.71px">27</div>
<div class="d" style="left:697.96px;top:566.71px">28</div>
<div class="d" style="left:733.00px;top:566.71px">29</div>
<div class="d" style="left:768.04px;top:566.71px">30</div>
<div class="m" style="left:854.81px;top:430.29px;transform:scaleX(1.0145)">Desember</div>
<div class="w" style="left:855.31px;top:458.64px;transform:scaleX(0.9744)">Sen</div>
<div class="w" style="left:890.35px;top:458.64px;transform:scaleX(0.9730)">Sel</div>
<div class="w" style="left:925.39px;top:458.64px;transform:scaleX(0.9620)">Rab</div>
<div class="w" style="left:960.43px;top:458.64px;transform:scaleX(0.9947)">Kam</div>
<div class="w" style="left:995.47px;top:458.64px;transform:scaleX(0.9268)">Jum</div>
<div class="w" style="left:1030.51px;top:458.64px;transform:scaleX(0.9736)">Sab</div>
<div class="w" style="left:1065.55px;top:458.64px;transform:scaleX(1.0098)">Ahd</div>
<div class="d" style="left:1065.55px;top:477.71px">1</div>
<div class="d" style="left:855.31px;top:499.71px">2</div>
<div class="d" style="left:890.35px;top:499.71px">3</div>
<div class="d" style="left:925.39px;top:499.71px">4</div>
<div class="d" style="left:960.43px;top:499.71px">5</div>
<div class="d" style="left:995.47px;top:499.71px">6</div>
<div class="d" style="left:1030.51px;top:499.71px">7</div>
<div class="d" style="left:1065.55px;top:499.71px">8</div>
<div class="d" style="left:855.31px;top:522.71px">9</div>
<div class="d" style="left:890.35px;top:522.71px">10</div>
<div class="d" style="left:925.39px;top:522.71px">11</div>
<div class="d" style="left:960.43px;top:522.71px">12</div>
<div class="d" style="left:995.47px;top:522.71px">13</div>
<div class="d" style="left:1030.51px;top:522.71px">14</div>
<div class="d" style="left:1065.55px;top:522.71px">15</div>
<div class="d" style="left:855.31px;top:544.71px">16</div>
<div class="d" style="left:890.35px;top:544.71px">17</div>
<div class="d" style="left:925.39px;top:544.71px">18</div>
<div class="d" style="left:960.43px;top:544.71px">19</div>
<div class="d" style="left:995.47px;top:544.71px">20</div>
<div class="d" style="left:1030.51px;top:544.71px">21</div>
<div class="d" style="left:1065.55px;top:544.71px">22</div>
<div class="d" style="left:855.31px;top:566.71px">23</div>
<div class="d" style="left:890.35px;top:566.71px">24</div>
<div class="d" style="left:925.39px;top:566.71px">25</div>
<div class="d" style="left:960.43px;top:566.71px">26</div>
<div class="d" style="left:995.47px;top:566.71px">27</div>
<div class="d" style="left:1030.51px;top:566.71px">28</div>
<div class="d" style="left:1065.55px;top:566.71px">29</div>
<div class="d" style="left:855.31px;top:589.71px">30</div>
<div class="d" style="left:890.35px;top:589.71px">31</div>
<div class="h" style="left:71.8px;top:622.97px;transform:scaleX(0.9386)">18 Jan 2002</div>
<div class="h" style="left:201.0px;top:622.97px;transform:scaleX(0.9270)">Dina Lee-Jackson</div>
<div class="h" style="left:71.8px;top:635.97px;transform:scaleX(0.9386)">19 Jan 2002</div>
<div class="h" style="left:201.0px;top:635.97px;transform:scaleX(0.9535)">Ulang tahun Robert E. Lee</div>
<div class="h" style="left:71.8px;top:647.97px;transform:scaleX(0.9386)">19 Jan 2002</div>
<div class="h" style="left:201.0px;top:647.97px;transform:scaleX(0.9494)">Dina Pahlawan Gabungan</div>
<div class="h" style="left:71.8px;top:660.97px;transform:scaleX(0.9386)">21 Jan 2002</div>
<div class="h" style="left:201.0px;top:660.97px;transform:scaleX(0.9535)">Ulang tahun Robert E. Lee</div>
<div class="h" style="left:71.8px;top:672.97px;transform:scaleX(0.9386)">21 Jan 2002</div>
<div class="h" style="left:201.0px;top:672.97px;transform:scaleX(0.9535)">Ulang tahun Robert E. Lee</div>
<div class="h" style="left:71.8px;top:685.97px;transform:scaleX(0.9386)">21 Jan 2002</div>
<div class="h" style="left:201.0px;top:685.97px;transform:scaleX(0.9543)">Dina Hak Asasi Manungsa Idaho</div>
<div class="h" style="left:71.8px;top:697.97px;transform:scaleX(0.9386)">21 Jan 2002</div>
<div class="h" style="left:201.0px;top:697.97px;transform:scaleX(0.9579)">Dina Hak Sipil</div>
<div class="h" style="left:417.6px;top:622.97px;transform:scaleX(0.9386)">28 Jan 2002</div>
<div class="h" style="left:539.5px;top:622.97px;transform:scaleX(0.9638)">Sampeyan Bishwat</div>
<div class="h" style="left:417.6px;top:635.97px;transform:scaleX(0.9544)">12 Feb 2002</div>
<div class="h" style="left:539.5px;top:635.97px;transform:scaleX(0.9729)">Ulang tahun Lincoln</div>
<div class="h" style="left:417.6px;top:647.97px;transform:scaleX(0.9544)">12 Feb 2002</div>
<div class="h" style="left:539.5px;top:647.97px;transform:scaleX(0.9368)">Shrove Selasa</div>
<div class="h" style="left:417.6px;top:660.97px;transform:scaleX(0.9544)">18 Feb 2002</div>
<div class="h" style="left:539.5px;top:660.97px;transform:scaleX(0.9565)">Dina Bates Daisy Gatson</div>
<div class="h" style="left:417.6px;top:672.97px;transform:scaleX(0.9544)">26 Feb 2002</div>
<div class="h" style="left:539.5px;top:672.97px;transform:scaleX(0.9510)">Purim</div>
<div class="h" style="left:417.6px;top:685.97px;transform:scaleX(0.9719)">2 Mar 2002</div>
<div class="h" style="left:539.5px;top:685.97px;transform:scaleX(0.9502)">Dina Kamardikan Texas</div>
<div class="h" style="left:417.6px;top:697.97px;transform:scaleX(0.9719)">5 Mar 2002</div>
<div class="h" style="left:539.5px;top:697.97px;transform:scaleX(0.9529)">Dina Rapat Kutha</div>
<div class="h" style="left:711.7px;top:622.97px;transform:scaleX(0.9732)">17 Mar 2002</div>
<div class="h" style="left:842.2px;top:622.97px;transform:scaleX(0.9494)">Dina Evakuasi</div>
<div class="h" style="left:711.7px;top:635.97px;transform:scaleX(0.9732)">18 Mar 2002</div>
<div class="h" style="left:842.2px;top:635.97px;transform:scaleX(0.9707)">Dina Evakuasi diamati</div>
<div class="h" style="left:711.7px;top:647.97px;transform:scaleX(0.9732)">25 Mar 2002</div>
<div class="h" style="left:842.2px;top:647.97px;transform:scaleX(0.9517)">Dina Seward</div>
<div class="h" style="left:711.7px;top:660.97px;transform:scaleX(0.9732)">26 Mar 2002</div>
<div class="h" style="left:842.2px;top:660.97px;transform:scaleX(0.9430)">Pangeran Yunus Kuhio Kalanianaole Dina</div>
<div class="h" style="left:711.7px;top:672.97px;transform:scaleX(0.9732)">28 Mar 2002</div>
<div class="h" style="left:842.2px;top:672.97px;transform:scaleX(0.9516)">Paskah (dina kapisan)</div>
<div class="h" style="left:711.7px;top:685.97px;transform:scaleX(0.9732)">29 Mar 2002</div>
<div class="h" style="left:842.2px;top:685.97px;transform:scaleX(0.9548)">Dina Jumuah sing apik</div>
<div class="h" style="left:711.7px;top:697.97px;transform:scaleX(0.9732)">31 Mar 2002</div>
<div class="h" style="left:842.2px;top:697.97px;transform:scaleX(0.9412)">Dina César Chávez</div>
</div>
</body></html>
